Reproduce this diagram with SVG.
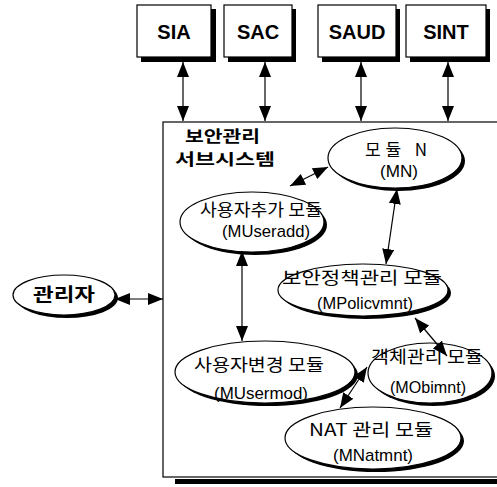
<svg xmlns="http://www.w3.org/2000/svg" width="497" height="487" viewBox="0 0 497 487">
  <style>
    .box { fill: #fff; stroke: #000; stroke-width: 1.2; }
    .shadow { fill: #000; }
    .node { fill: #fff; stroke: #000; stroke-width: 1.2; }
    .conn { stroke: #000; stroke-width: 1.2; fill: none; marker-start: url(#head); marker-end: url(#head); }
    .sys { font-family: "Liberation Sans", Arial, sans-serif; font-size: 20px; font-weight: bold; text-anchor: middle; }
    .kr { font-family: "Noto Sans CJK KR", sans-serif; font-size: 17px; text-anchor: middle; }
    .krb { font-family: "Noto Sans CJK KR", sans-serif; font-size: 15.5px; font-weight: bold; }
    .en { font-family: "Liberation Sans", Arial, sans-serif; font-size: 17px; text-anchor: middle; }
  </style>
  <defs>
    <marker id="head" markerUnits="userSpaceOnUse" markerWidth="15" markerHeight="12" refX="15" refY="6" orient="auto-start-reverse">
      <path d="M0,0 L15,6 L0,12 z" fill="#000"/>
    </marker>
  </defs>
  <rect width="497" height="487" fill="#fff"/>

  <!-- external systems -->
  <g id="sia">
    <rect class="shadow" x="141" y="9" width="75" height="53"/>
    <rect class="box" x="137" y="5" width="74" height="52"/>
    <text class="sys" x="174" y="39">SIA</text>
  </g>
  <g id="sac">
    <rect class="shadow" x="228" y="9" width="68" height="53"/>
    <rect class="box" x="224" y="5" width="68" height="52"/>
    <text class="sys" x="258" y="39">SAC</text>
  </g>
  <g id="saud">
    <rect class="shadow" x="322" y="9" width="78" height="53"/>
    <rect class="box" x="318" y="5" width="78" height="52"/>
    <text class="sys" x="357" y="39">SAUD</text>
  </g>
  <g id="sint">
    <rect class="shadow" x="410" y="9" width="80" height="53"/>
    <rect class="box" x="406" y="5" width="80" height="52"/>
    <text class="sys" x="446" y="39">SINT</text>
  </g>

  <!-- security management subsystem frame -->
  <g id="subsystem">
    <rect class="shadow" x="175" y="479" width="330" height="5"/>
    <rect class="box" x="163" y="122" width="345" height="355"/>
    <text class="krb" x="185" y="142" textLength="75" lengthAdjust="spacingAndGlyphs">보안관리</text>
    <text class="krb" x="175" y="165" textLength="100" lengthAdjust="spacingAndGlyphs">서브시스템</text>
  </g>

  <!-- administrator -->
  <g id="admin">
    <ellipse class="shadow" cx="67" cy="298" rx="51" ry="20"/>
    <ellipse class="node" cx="64" cy="295" rx="51" ry="20"/>
    <text class="krb" x="64" y="301" text-anchor="middle" style="font-size:18px" textLength="62" lengthAdjust="spacingAndGlyphs">관리자</text>
  </g>

  <!-- modules -->
  <g id="mn">
    <ellipse class="shadow" cx="398" cy="161" rx="67" ry="30"/>
    <ellipse class="node" cx="395" cy="158" rx="67" ry="30"/>
    <text class="kr" x="396" y="156" textLength="62" lengthAdjust="spacing">모듈 N</text>
    <text class="en" x="399" y="177" textLength="38" lengthAdjust="spacingAndGlyphs">(MN)</text>
  </g>
  <g id="museradd">
    <ellipse class="shadow" cx="255" cy="225" rx="72" ry="30"/>
    <ellipse class="node" cx="252" cy="222" rx="72" ry="30"/>
    <text class="kr" x="261" y="216" textLength="122" lengthAdjust="spacingAndGlyphs">사용자추가 모듈</text>
    <text class="en" x="266" y="237" textLength="88" lengthAdjust="spacingAndGlyphs">(MUseradd)</text>
  </g>
  <g id="mpolicvmnt">
    <ellipse class="shadow" cx="366" cy="293" rx="85" ry="26"/>
    <ellipse class="node" cx="363" cy="290" rx="85" ry="26"/>
    <text class="kr" x="362" y="284" textLength="160" lengthAdjust="spacingAndGlyphs">보안정책관리 모듈</text>
    <text class="en" x="365" y="309" textLength="96" lengthAdjust="spacingAndGlyphs">(MPolicvmnt)</text>
  </g>
  <g id="musermod">
    <ellipse class="shadow" cx="268" cy="375" rx="90" ry="31"/>
    <ellipse class="node" cx="265" cy="372" rx="90" ry="31"/>
    <text class="kr" x="259" y="371" textLength="130" lengthAdjust="spacingAndGlyphs">사용자변경 모듈</text>
    <text class="en" x="261" y="399" textLength="94" lengthAdjust="spacingAndGlyphs">(MUsermod)</text>
  </g>
  <g id="mobimnt">
    <ellipse class="shadow" cx="433" cy="376" rx="62" ry="30"/>
    <ellipse class="node" cx="430" cy="373" rx="62" ry="30"/>
    <text class="kr" x="427" y="363" textLength="112" lengthAdjust="spacingAndGlyphs">객체관리 모듈</text>
    <text class="en" x="428" y="393" textLength="76" lengthAdjust="spacingAndGlyphs">(MObimnt)</text>
  </g>
  <g id="mnatmnt">
    <ellipse class="shadow" cx="376" cy="441" rx="88" ry="31"/>
    <ellipse class="node" cx="373" cy="438" rx="88" ry="31"/>
    <text class="kr" x="371" y="436" textLength="124" lengthAdjust="spacingAndGlyphs">NAT 관리 모듈</text>
    <text class="en" x="373" y="461" textLength="80" lengthAdjust="spacingAndGlyphs">(MNatmnt)</text>
  </g>

  <!-- connectors -->
  <g id="connectors">
    <line class="conn" x1="183" y1="62" x2="183" y2="121"/>
    <line class="conn" x1="265" y1="62" x2="265" y2="121"/>
    <line class="conn" x1="361" y1="62" x2="361" y2="121"/>
    <line class="conn" x1="448" y1="62" x2="448" y2="121"/>
    <line class="conn" x1="115" y1="299" x2="163" y2="299"/>
    <line class="conn" x1="290" y1="186" x2="328" y2="167"/>
    <line class="conn" x1="242" y1="251" x2="242" y2="341"/>
    <line class="conn" x1="397" y1="189" x2="386" y2="264"/>
    <line class="conn" x1="415" y1="318" x2="447" y2="356"/>
    <line class="conn" x1="367" y1="367" x2="340" y2="408"/>
  </g>
</svg>
